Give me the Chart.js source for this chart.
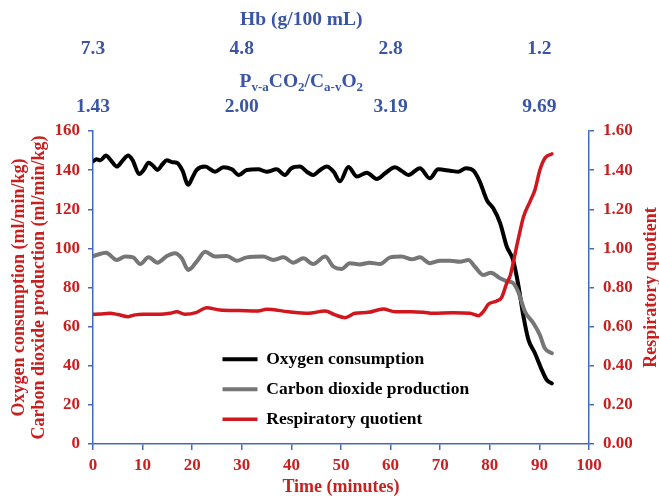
<!DOCTYPE html>
<html><head><meta charset="utf-8">
<script src="https://cdn.jsdelivr.net/npm/chart.js@4/dist/chart.umd.min.js"></script>
<style>html,body{margin:0;padding:0;background:#fff;}#wrap{width:659px;height:496px;}</style>
</head><body><div id="wrap"><canvas id="c" width="659" height="496"></canvas></div>
<script>
// ---- data ----
const o2Time = [0,0.7,1.5,2.6,3.6,4.8,6,7.1,8,9.3,10.2,11.2,12,13,14,14.9,16,16.9,18,19.2,20,20.9,22.6,24.6,26.3,28,29.4,31,33.3,35,37,38.7,40,41.7,43.1,44.4,45.8,47.1,48.5,49.8,51.5,53.2,55.2,57.2,58.9,60.9,62.3,63.6,65.9,67.9,69.6,72,73.7,75.2,76.7,78,79.4,80.7,82.1,83.4,84.7,85.7,86.8,87.8,89.1,90.5,91.5,92.5];
const o2Values = [144.5,145.5,145,147.5,145,141.8,145,147.5,145,138,140,143.8,142.5,140.1,143,145,144,143.8,140,132.5,136,140.1,141.8,139.2,141.5,140.4,137.5,140.1,140.4,139.2,140.4,137.5,141,141.8,139.2,137.5,140.1,141.8,139.2,134.3,141.6,136.7,138.7,135.5,138.4,141.5,139.5,137.5,141,135.8,140.4,139.7,139.2,141,139.7,134,124.7,120.5,112.8,101,94,82,65,53.2,46.4,37.8,32.7,31];

const co2Time = [0,0.7,2.6,4.8,6.5,8.1,9.5,11.2,13,14.9,16.5,17.9,19.2,20.9,22.6,24.6,27,29,31,34.3,36.4,38.4,40.4,42.4,44.4,46.8,48.5,50.1,51.8,53.8,55.8,57.9,59.9,62.2,64.3,65.9,67.9,70,72,74,75.7,77,78.7,80.2,82.1,83.7,84.6,85.7,87.1,88.8,90.1,91.1,92.5];
const co2Values = [96,96.6,97.8,94.1,95.8,95.4,92,95.4,92.7,96.1,97.5,94.9,89,93.2,98.3,95.8,96.1,93.7,95.4,95.8,94.1,95.4,92.7,94.9,92,95.8,90.6,89.5,92.4,91.8,92.7,92,95.4,95.8,94.4,95.4,92.4,93.7,93.7,93.2,94.1,90.6,86.4,87.5,84.7,83,82.5,78,67.6,61.7,55.7,48.9,46.4];

const rqTime = [0,1.5,3.4,5,7.1,8.5,10.1,13.5,15.5,16.9,18.5,20.9,22.9,25.6,29.6,33.3,35,39.4,43.4,46.8,48.8,50.8,52.8,55.5,58.5,60.9,64.3,66.6,68.6,72.6,76,77.7,78.8,79.7,81.4,82.4,83.4,84.1,84.7,85.7,86.8,88.1,89.1,90.1,91.1,92.5];
const rqValues = [0.663,0.665,0.668,0.662,0.651,0.66,0.663,0.663,0.668,0.676,0.663,0.673,0.697,0.685,0.682,0.68,0.689,0.676,0.668,0.68,0.66,0.646,0.668,0.673,0.69,0.676,0.676,0.673,0.668,0.671,0.668,0.656,0.68,0.714,0.731,0.75,0.821,0.86,0.924,1.043,1.162,1.239,1.299,1.401,1.461,1.483];

const seriesNames = ['Oxygen consumption','Carbon dioxide production','Respiratory quotient'];
const topTickTimes = [0,30,60,90];
const hbLabels = ['7.3','4.8','2.8','1.2'];
const ratioLabels = ['1.43','2.00','3.19','9.69'];

// ---- styles ----
const RED = '#C8201F', LINE_RED = '#D0161E', BLUE_AX = '#4468BE', BLUE_TXT = '#3A55A6', GREY = '#767676';
const FAM = '"Liberation Serif", "Times New Roman", serif';
const tickFont = {family: FAM, size: 17, weight: 'bold'};
const topFont = {family: FAM, size: 19.5, weight: 'bold'};
const titleFont = {family: FAM, size: 18, weight: 'bold', lineHeight: 1.07};

const pts = (t, v) => t.map((x, i) => ({x: x, y: v[i]}));

const titlesPlugin = {
  id: 'extraTitles',
  afterLayout(chart) {
    const lg = chart.legend, ca = chart.chartArea;
    const nl = ca.left + 117, nt = ca.top + 207;
    const dx = nl - lg.left, dy = nt - lg.top;
    lg.left += dx; lg.right += dx; lg.top += dy; lg.bottom += dy;
  },
  afterDraw(chart) {
    const ctx = chart.ctx, ca = chart.chartArea;
    const hb = chart.scales.xHb, pv = chart.scales.xPv;
    const cx = ca.left + 0.42 * (ca.right - ca.left);
    ctx.save();
    ctx.fillStyle = BLUE_TXT;
    ctx.textAlign = 'center';
    ctx.textBaseline = 'middle';
    ctx.font = 'bold 19.5px ' + FAM;
    ctx.fillText('Hb (g/100 mL)', cx, hb.top + 20);
    // subscript title
    const parts = [['P',0],['v-a',1],['CO',0],['2',1],['/C',0],['a-v',1],['O',0],['2',1]];
    const big = 'bold 19.5px ' + FAM, small = 'bold 13px ' + FAM;
    let w = 0;
    const ws = parts.map(p => { ctx.font = p[1] ? small : big; const m = ctx.measureText(p[0]).width; w += m; return m; });
    let x = cx - w / 2;
    const base = pv.top + 16 + 6.5;
    ctx.textAlign = 'left';
    ctx.textBaseline = 'alphabetic';
    parts.forEach((p, i) => { ctx.font = p[1] ? small : big; ctx.fillText(p[0], x, base + (p[1] ? 4 : 0)); x += ws[i]; });
    // right axis title, reading bottom-to-top
    const yr = chart.scales.yRight;
    ctx.fillStyle = RED;
    ctx.font = 'bold 18px ' + FAM;
    ctx.textAlign = 'center';
    ctx.textBaseline = 'middle';
    ctx.translate(yr.right - 8, (ca.top + ca.bottom) / 2);
    ctx.rotate(-Math.PI / 2);
    ctx.fillText('Respiratory quotient', 0, 0);
    ctx.restore();
  }
};

const topAxis = (labels, weight, h, pad) => ({
  type: 'linear', position: 'top', min: 0, max: 100, weight: weight,
  grid: {display: false, drawTicks: false, tickLength: 0},
  border: {display: false},
  ticks: {color: BLUE_TXT, font: topFont, padding: pad, autoSkip: false, maxRotation: 0,
          callback: (v) => { const i = topTickTimes.indexOf(v); return i >= 0 ? labels[i] : ''; }},
  afterBuildTicks: (s) => { s.ticks = topTickTimes.map(v => ({value: v})); },
  afterFit: (s) => { s.height = h; }
});

new Chart(document.getElementById('c'), {
  type: 'line',
  data: {
    datasets: [
      {label: seriesNames[0], data: pts(o2Time, o2Values), borderColor: '#000000', backgroundColor: '#000000', borderWidth: 4, pointRadius: 0, yAxisID: 'y', order: 3},
      {label: seriesNames[1], data: pts(co2Time, co2Values), borderColor: GREY, backgroundColor: GREY, borderWidth: 4, pointRadius: 0, yAxisID: 'y', order: 2},
      {label: seriesNames[2], data: pts(rqTime, rqValues), borderColor: LINE_RED, backgroundColor: LINE_RED, borderWidth: 3.5, pointRadius: 0, yAxisID: 'yRight', order: 1}
    ]
  },
  options: {
    responsive: false, animation: false,
    layout: {padding: 0},
    elements: {line: {cubicInterpolationMode: 'monotone', borderCapStyle: 'round', borderJoinStyle: 'round'}},
    plugins: {
      tooltip: {enabled: false},
      legend: {
        position: 'chartArea', align: 'start',
        labels: {usePointStyle: true, pointStyle: 'line', pointStyleWidth: 35, padding: 12.5,
                 color: '#000', font: {family: FAM, size: 17.5, weight: 'bold'},
                 sort: (a, b) => a.datasetIndex - b.datasetIndex}
      }
    },
    scales: {
      x: {
        type: 'linear', position: 'bottom', min: 0, max: 100,
        ticks: {stepSize: 10, color: RED, font: tickFont, padding: 5.8, maxRotation: 0, autoSkip: false},
        grid: {display: true, drawOnChartArea: false, drawTicks: true, tickLength: 6, color: BLUE_AX, lineWidth: 1.5},
        border: {display: true, color: BLUE_AX, width: 1.5},
        title: {display: true, text: 'Time (minutes)', color: RED, font: {family: FAM, size: 18, weight: 'bold', lineHeight: 1}, padding: {top: 0, bottom: 0}},
        afterFit: (s) => { s.height = 52; }
      },
      xHb: topAxis(hbLabels, 2, 64, 3.6),
      xPv: topAxis(ratioLabels, 1, 67, 12.6),
      y: {
        type: 'linear', position: 'left', min: 0, max: 160,
        ticks: {stepSize: 20, color: RED, font: tickFont, padding: 8},
        grid: {display: true, drawOnChartArea: false, drawTicks: true, tickLength: 5, color: BLUE_AX, lineWidth: 1.5},
        border: {display: true, color: BLUE_AX, width: 1.5},
        title: {display: true, text: ['Oxygen consumption (ml/min/kg)', 'Carbon dioxide production (ml/min/kg)'], color: RED, font: titleFont, padding: {top: 10, bottom: 0}},
        afterFit: (s) => { s.width = 93; }
      },
      yRight: {
        type: 'linear', position: 'right', min: 0, max: 1.6,
        ticks: {stepSize: 0.2, color: RED, font: tickFont, padding: 9, callback: (v) => Number(v).toFixed(2)},
        grid: {display: true, drawOnChartArea: false, drawTicks: true, tickLength: 5, color: BLUE_AX, lineWidth: 1.5},
        border: {display: true, color: BLUE_AX, width: 1.5},
        afterFit: (s) => { s.width = 70; }
      }
    }
  },
  plugins: [titlesPlugin]
});
</script></body></html>
